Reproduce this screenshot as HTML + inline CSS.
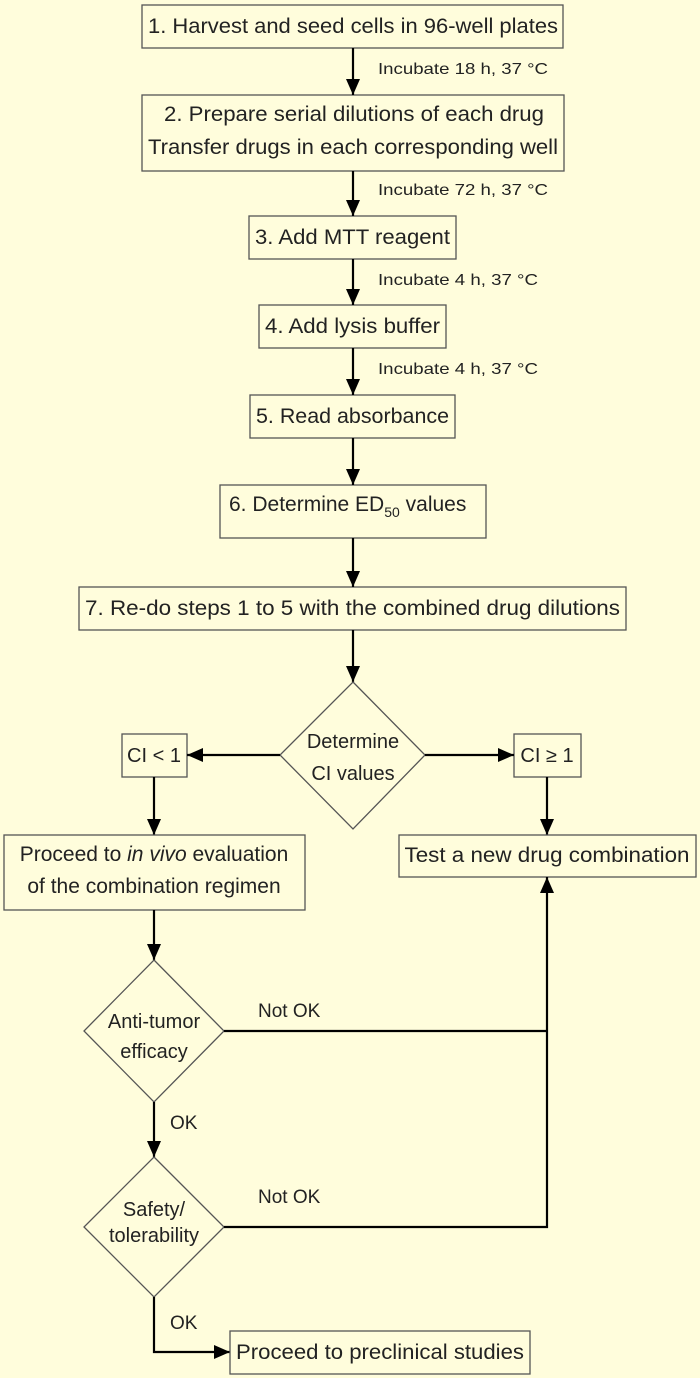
<!DOCTYPE html>
<html><head><meta charset="utf-8"><style>
html,body{margin:0;padding:0;background:#fffddc;}
svg{display:block}
text{font-family:"Liberation Sans",sans-serif;fill:#222;}
.b{fill:none;stroke:#555;stroke-width:1.3}
.l{stroke:#000;stroke-width:2.2;fill:none}
</style></head><body>
<svg width="700" height="1378" viewBox="0 0 700 1378">
<defs><marker id="a" markerWidth="10" markerHeight="10" refX="9" refY="5" orient="auto" markerUnits="userSpaceOnUse" viewBox="0 0 10 10"><path d="M0,0 L10,5 L0,10Z" fill="#000"/></marker>
<marker id="A" markerWidth="16" markerHeight="14" refX="16" refY="7" orient="auto" markerUnits="userSpaceOnUse" viewBox="0 0 16 14"><path d="M0,0 L16,7 L0,14Z" fill="#000"/></marker></defs>
<rect width="700" height="1378" fill="#fffddc"/>
<!-- boxes -->
<rect class="b" x="142" y="5" width="421" height="43"/>
<text x="148" y="33" font-size="21" textLength="410" lengthAdjust="spacingAndGlyphs">1. Harvest and seed cells in 96-well plates</text>
<rect class="b" x="142" y="95" width="422" height="76"/>
<text x="164" y="121" font-size="21" textLength="380" lengthAdjust="spacingAndGlyphs">2. Prepare serial dilutions of each drug</text>
<text x="148" y="154" font-size="21" textLength="410" lengthAdjust="spacingAndGlyphs">Transfer drugs in each corresponding well</text>
<rect class="b" x="249" y="216" width="207" height="43"/>
<text x="255" y="244" font-size="21" textLength="195" lengthAdjust="spacingAndGlyphs">3. Add MTT reagent</text>
<rect class="b" x="259" y="305" width="187" height="43"/>
<text x="265" y="333" font-size="21" textLength="175" lengthAdjust="spacingAndGlyphs">4. Add lysis buffer</text>
<rect class="b" x="250" y="395" width="205" height="43"/>
<text x="256" y="423" font-size="21" textLength="193" lengthAdjust="spacingAndGlyphs">5. Read absorbance</text>
<rect class="b" x="220" y="485" width="266" height="53"/>
<text x="229" y="511" font-size="21">6. Determine ED<tspan font-size="14" dy="6">50</tspan><tspan dy="-6"> values</tspan></text>
<rect class="b" x="79" y="587" width="547" height="43"/>
<text x="85" y="615" font-size="21" textLength="535" lengthAdjust="spacingAndGlyphs">7. Re-do steps 1 to 5 with the combined drug dilutions</text>
<!-- incubate labels -->
<text x="378" y="74" font-size="16" textLength="170" lengthAdjust="spacingAndGlyphs">Incubate 18 h, 37 °C</text>
<text x="378" y="195" font-size="16" textLength="170" lengthAdjust="spacingAndGlyphs">Incubate 72 h, 37 °C</text>
<text x="378" y="285" font-size="16" textLength="160" lengthAdjust="spacingAndGlyphs">Incubate 4 h, 37 °C</text>
<text x="378" y="374" font-size="16" textLength="160" lengthAdjust="spacingAndGlyphs">Incubate 4 h, 37 °C</text>
<!-- vertical arrows -->
<line class="l" x1="353" y1="48" x2="353" y2="95" marker-end="url(#A)"/>
<line class="l" x1="353" y1="171" x2="353" y2="216" marker-end="url(#A)"/>
<line class="l" x1="353" y1="259" x2="353" y2="305" marker-end="url(#A)"/>
<line class="l" x1="353" y1="348" x2="353" y2="395" marker-end="url(#A)"/>
<line class="l" x1="353" y1="438" x2="353" y2="485" marker-end="url(#A)"/>
<line class="l" x1="353" y1="538" x2="353" y2="587" marker-end="url(#A)"/>
<line class="l" x1="353" y1="630" x2="353" y2="682" marker-end="url(#A)"/>
<!-- CI diamond -->
<polygon class="b" points="353,682 425,755 353,829 280,755"/>
<text x="353" y="748" font-size="20" text-anchor="middle">Determine</text>
<text x="353" y="780" font-size="20" text-anchor="middle">CI values</text>
<rect class="b" x="122" y="734" width="65" height="43"/>
<text x="154" y="762" font-size="20" text-anchor="middle">CI &lt; 1</text>
<rect class="b" x="514" y="734" width="67" height="43"/>
<text x="547" y="762" font-size="20" text-anchor="middle">CI ≥ 1</text>
<line class="l" x1="280" y1="755" x2="187" y2="755" marker-end="url(#A)"/>
<line class="l" x1="425" y1="755" x2="514" y2="755" marker-end="url(#A)"/>
<line class="l" x1="154" y1="777" x2="154" y2="835" marker-end="url(#A)"/>
<line class="l" x1="547" y1="777" x2="547" y2="835" marker-end="url(#A)"/>
<rect class="b" x="4" y="835" width="301" height="75"/>
<text x="154" y="861" font-size="21" text-anchor="middle">Proceed to <tspan font-style="italic">in vivo</tspan> evaluation</text>
<text x="154" y="893" font-size="21" text-anchor="middle">of the combination regimen</text>
<rect class="b" x="399" y="835" width="297" height="42"/>
<text x="547" y="862" font-size="21" text-anchor="middle" textLength="285" lengthAdjust="spacingAndGlyphs">Test a new drug combination</text>
<!-- anti-tumor -->
<line class="l" x1="154" y1="910" x2="154" y2="960" marker-end="url(#A)"/>
<polygon class="b" points="154,960 224,1031 154,1102 84,1031"/>
<text x="154" y="1028" font-size="20" text-anchor="middle">Anti-tumor</text>
<text x="154" y="1058" font-size="20" text-anchor="middle">efficacy</text>
<text x="258" y="1017" font-size="19">Not OK</text>
<polyline class="l" points="224,1031 547,1031"/>
<line class="l" x1="154" y1="1102" x2="154" y2="1157" marker-end="url(#A)"/>
<text x="170" y="1129" font-size="19">OK</text>
<polygon class="b" points="154,1157 224,1227 154,1297 84,1227"/>
<text x="154" y="1216" font-size="20" text-anchor="middle">Safety/</text>
<text x="154" y="1242" font-size="20" text-anchor="middle">tolerability</text>
<text x="258" y="1203" font-size="19">Not OK</text>
<polyline class="l" points="224,1227 547,1227 547,877" marker-end="url(#A)"/>
<polyline class="l" points="154,1297 154,1352 230,1352" marker-end="url(#A)"/>
<text x="170" y="1329" font-size="19">OK</text>
<rect class="b" x="230" y="1331" width="300" height="43"/>
<text x="380" y="1359" font-size="21" text-anchor="middle" textLength="288" lengthAdjust="spacingAndGlyphs">Proceed to preclinical studies</text>
</svg>
</body></html>
